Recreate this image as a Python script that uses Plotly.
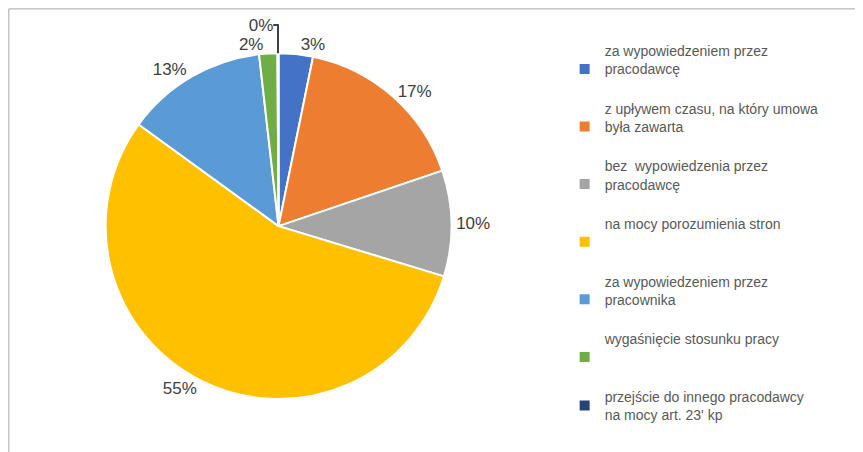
import plotly.graph_objects as go

labels = [
    "za wypowiedzeniem przez<br>pracodawcę<br> ",
    "z upływem czasu, na który umowa<br>była zawarta<br> ",
    "bez  wypowiedzenia przez<br>pracodawcę<br> ",
    "na mocy porozumienia stron<br> <br> ",
    "za wypowiedzeniem przez<br>pracownika<br> ",
    "wygaśnięcie stosunku pracy<br> <br> ",
    "przejście do innego pracodawcy<br>na mocy art. 23' kp",
]
values = [3.2, 16.6, 9.9, 55.3, 13.2, 1.7, 0.1]
pct_text = ["3%", "17%", "10%", "55%", "13%", "2%", "0%"]
colors = ["#4472C4", "#ED7D31", "#A5A5A5", "#FFC000", "#5B9BD5", "#70AD47", "#264478"]

fig = go.Figure(go.Pie(
    labels=labels,
    values=values,
    text=pct_text,
    textinfo="text",
    textposition="outside",
    textfont=dict(size=17, color="#404040"),
    marker=dict(colors=colors, line=dict(color="white", width=2)),
    sort=False,
    direction="clockwise",
    rotation=0,
    domain=dict(x=[0.113, 0.514], y=[0.135, 0.90]),
))

fig.update_layout(
    width=863, height=452,
    margin=dict(l=0, r=0, t=0, b=0),
    paper_bgcolor="white",
    font=dict(family="Liberation Sans, Arial", color="#595959"),
    legend=dict(x=0.645, y=0.94, xanchor="left", yanchor="top",
                font=dict(size=14, color="#595959"), itemsizing="constant"),
    shapes=[dict(type="rect", xref="paper", yref="paper", x0=0.001, y0=0.002, x1=0.999, y1=0.998,
                 line=dict(color="#A6A6A6", width=1))],
)

fig.write_html("out.html")
